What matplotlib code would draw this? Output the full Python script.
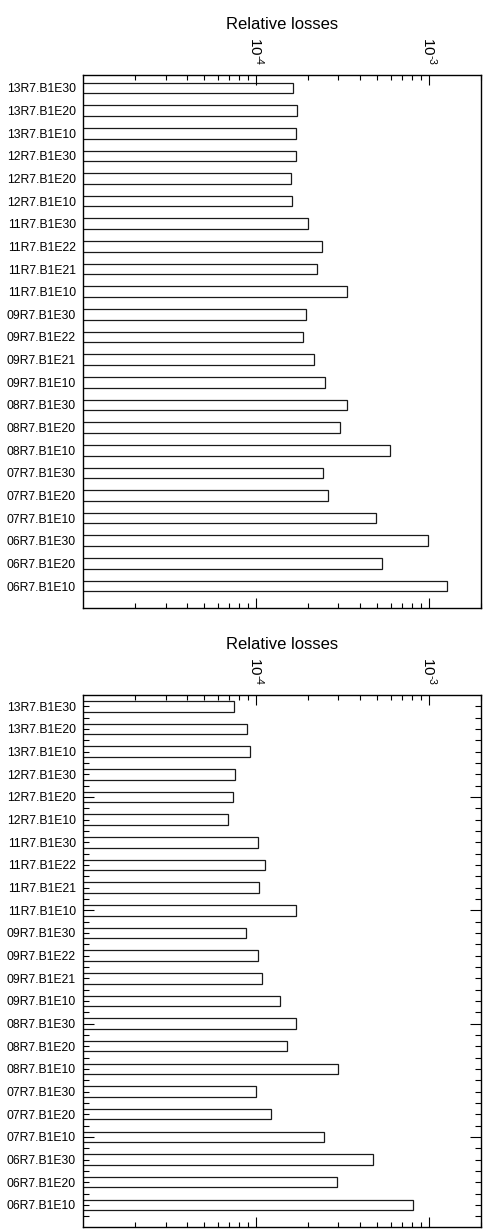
import numpy as np
import matplotlib
matplotlib.use("Agg")
import matplotlib.pyplot as plt
from matplotlib.ticker import (MultipleLocator, LogLocator, NullFormatter,
                               FixedLocator, FuncFormatter)

plt.rcParams['font.family'] = 'Liberation Sans'
plt.rcParams['mathtext.fontset'] = 'custom'
plt.rcParams['mathtext.rm'] = 'Liberation Sans'
plt.rcParams['mathtext.it'] = 'Liberation Sans:italic'
plt.rcParams['mathtext.bf'] = 'Liberation Sans:bold'

# elements, listed top to bottom
elements = ["13R7.B1E30", "13R7.B1E20", "13R7.B1E10",
            "12R7.B1E30", "12R7.B1E20", "12R7.B1E10",
            "11R7.B1E30", "11R7.B1E22", "11R7.B1E21", "11R7.B1E10",
            "09R7.B1E30", "09R7.B1E22", "09R7.B1E21", "09R7.B1E10",
            "08R7.B1E30", "08R7.B1E20", "08R7.B1E10",
            "07R7.B1E30", "07R7.B1E20", "07R7.B1E10",
            "06R7.B1E30", "06R7.B1E20", "06R7.B1E10"]

losses_top = [1.63e-4, 1.72e-4, 1.71e-4,
              1.71e-4, 1.60e-4, 1.62e-4,
              2.01e-4, 2.42e-4, 2.26e-4, 3.38e-4,
              1.95e-4, 1.88e-4, 2.17e-4, 2.52e-4,
              3.38e-4, 3.08e-4, 5.93e-4,
              2.45e-4, 2.62e-4, 4.96e-4,
              9.91e-4, 5.38e-4, 1.28e-3]

losses_bottom = [7.45e-5, 8.90e-5, 9.23e-5,
                 7.55e-5, 7.35e-5, 6.87e-5,
                 1.03e-4, 1.13e-4, 1.04e-4, 1.71e-4,
                 8.75e-5, 1.03e-4, 1.08e-4, 1.38e-4,
                 1.71e-4, 1.51e-4, 3.00e-4,
                 1.00e-4, 1.22e-4, 2.48e-4,
                 4.75e-4, 2.94e-4, 8.11e-4]


def pow10(x, _):
    # short hyphen in the exponent instead of the mathtext minus
    e = int(round(np.log10(x)))
    sign = r'\text{-}' if e < 0 else ''
    return r'$\mathdefault{10^{%s%d}}$' % (sign, abs(e))


def draw_panel(ax, values, ylim, side_ticks=False):
    pos = list(range(1, len(elements) + 1))
    ax.set_xscale('log')
    ax.barh(pos, values, height=0.47, color='white',
            edgecolor='#1a1a1a', linewidth=0.9)
    ax.set_xlim(1e-5, 2e-3)
    ax.set_ylim(*ylim)

    ax.xaxis.set_major_locator(FixedLocator([1e-4, 1e-3]))
    ax.xaxis.set_major_formatter(FuncFormatter(pow10))
    ax.xaxis.set_minor_locator(LogLocator(base=10, subs=range(2, 10)))
    ax.xaxis.set_minor_formatter(NullFormatter())
    ax.tick_params(axis='x', which='both', direction='in', top=True,
                   bottom=True, labeltop=True, labelbottom=False,
                   width=0.8, color='black')
    ax.tick_params(axis='x', which='major', length=7.5, pad=7,
                   labelsize=11, labelrotation=-90)
    ax.tick_params(axis='x', which='minor', length=3.8)
    ax.xaxis.set_label_position('top')
    ax.set_xlabel('Relative losses', fontsize=12, labelpad=6)

    ax.set_yticks(pos)
    ax.set_yticklabels(elements)
    ax.tick_params(axis='y', length=0, pad=5, labelsize=8.7)

    for sp in ax.spines.values():
        sp.set_linewidth(1.0)

    if side_ticks:
        # tick marks on both sides, independent of the labels
        tw = ax.twinx()
        tw.set_ylim(*ylim)
        tw.yaxis.set_major_locator(MultipleLocator(5))
        tw.yaxis.set_minor_locator(MultipleLocator(0.5))
        tw.yaxis.set_ticks_position('both')
        tw.tick_params(axis='y', which='both', direction='in',
                       labelleft=False, labelright=False,
                       width=0.8, color='black')
        tw.tick_params(axis='y', which='major', length=8)
        tw.tick_params(axis='y', which='minor', length=4.3)
        for sp in tw.spines.values():
            sp.set_visible(False)


fig = plt.figure(figsize=(4.84, 12.30), dpi=100)
ax_top = fig.add_axes([0.1715, 0.5057, 0.8223, 0.4333])
ax_bot = fig.add_axes([0.1715, 0.0024, 0.8223, 0.4325])

draw_panel(ax_top, losses_top, (23.97, 0.43))
draw_panel(ax_bot, losses_bottom, (23.98, 0.51), side_ticks=True)

fig.savefig("out.png", dpi=100)
